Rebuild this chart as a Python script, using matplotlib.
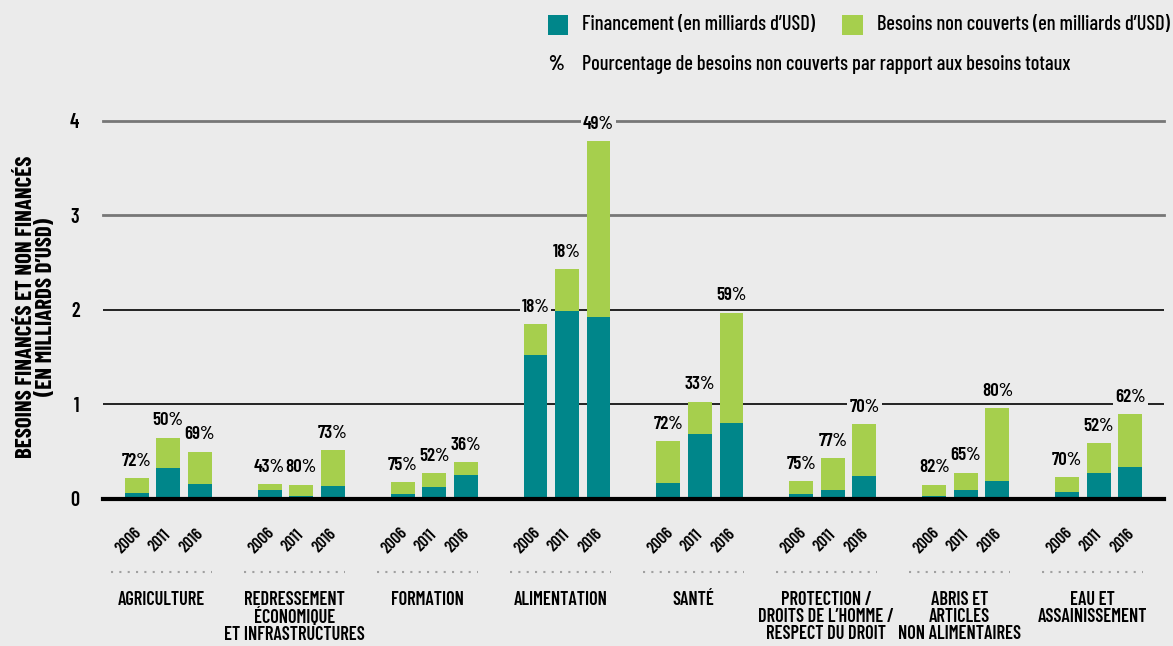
import numpy as np
import matplotlib.pyplot as plt
from matplotlib.patches import Rectangle
import matplotlib.transforms as mtransforms

plt.rcParams['font.family'] = ['Barlow Condensed', 'DejaVu Sans']

categories = ['AGRICULTURE', 'REDRESSEMENT\nÉCONOMIQUE\nET INFRASTRUCTURES', 'FORMATION',
              'ALIMENTATION', 'SANTÉ', 'PROTECTION /\nDROITS DE L’HOMME /\nRESPECT DU DROIT',
              'ABRIS ET\nARTICLES\nNON ALIMENTAIRES', 'EAU ET\nASSAINISSEMENT']
years = ['2006', '2011', '2016']

funded_2006 = [0.06, 0.09, 0.05, 1.52, 0.17, 0.05, 0.03, 0.07]
funded_2011 = [0.33, 0.03, 0.13, 1.99, 0.69, 0.10, 0.10, 0.28]
funded_2016 = [0.16, 0.14, 0.25, 1.93, 0.80, 0.24, 0.19, 0.34]
unmet_2006 = [0.16, 0.07, 0.13, 0.33, 0.44, 0.14, 0.12, 0.16]
unmet_2011 = [0.32, 0.12, 0.14, 0.44, 0.34, 0.33, 0.18, 0.31]
unmet_2016 = [0.34, 0.38, 0.14, 1.86, 1.17, 0.55, 0.77, 0.56]
pct_2006 = [72, 43, 75, 18, 72, 75, 82, 70]
pct_2011 = [50, 80, 52, 18, 33, 77, 65, 52]
pct_2016 = [69, 73, 36, 49, 59, 70, 80, 62]

funded = [funded_2006, funded_2011, funded_2016]
unmet = [unmet_2006, unmet_2011, unmet_2016]
pcts = [pct_2006, pct_2011, pct_2016]

bg = '#ebebeb'
teal = '#00868a'
green = '#a6cf4d'

fig = plt.figure(figsize=(11.73, 6.46), dpi=100, facecolor=bg)
ax = fig.add_axes([0.0878, 0.2276, 0.9045, 0.5851])
ax.set_facecolor(bg)

x = np.arange(len(categories))
offsets = [-0.237, 0, 0.237]
width = 0.18

# gridlines: 1 and 2 black, 3 and 4 grey
for yv in [1, 2]:
    ax.axhline(yv, color='black', lw=1.2, zorder=0)
for yv in [3, 4]:
    ax.axhline(yv, color='#777777', lw=2, zorder=0, clip_on=False)

for j in range(3):
    xs = x + offsets[j]
    ax.bar(xs, funded[j], width, color=teal, zorder=2)
    ax.bar(xs, unmet[j], width, bottom=funded[j], color=green, zorder=2)
    for xi, f, u, p in zip(xs, funded[j], unmet[j], pcts[j]):
        ax.annotate(f'{p}%', (xi, f + u), xytext=(0, 6), textcoords='offset points',
                    ha='center', va='bottom', fontsize=13.5, fontweight='semibold', zorder=1,
                    bbox=dict(facecolor=bg, edgecolor='none', pad=1.5), annotation_clip=False)

ax.axhline(0, color='black', lw=3, zorder=4, clip_on=False)

ax.set_xlim(-0.49, len(categories) - 0.51)
ax.set_ylim(0, 4)
ax.set_yticks([0, 1, 2, 3, 4])
ax.set_yticklabels(['0', '1', '2', '3', '4'], fontsize=14.5, fontweight='semibold')
ax.tick_params(axis='y', length=0, pad=17)
ax.set_xticks([])
for s in ax.spines.values():
    s.set_visible(False)

trans = mtransforms.blended_transform_factory(ax.transData, ax.transAxes)
for i, cat in enumerate(categories):
    for j in range(3):
        ax.text(x[i] + offsets[j] - 0.06, -0.111, years[j], transform=trans, rotation=45,
                ha='center', va='center', fontsize=12, fontweight='semibold')
    ax.plot([x[i] - 0.43, x[i] + 0.33], [-0.193, -0.193], transform=trans, clip_on=False,
            color='#a0a0a0', lw=1.5, linestyle=(0, (1, 3)))
    ax.text(x[i] - 0.05, -0.243, cat, transform=trans, ha='center', va='top',
            fontsize=13.2, fontweight='semibold', linespacing=0.95)

fig.text(0.031, 0.525, 'BESOINS FINANCÉS ET NON FINANCÉS\n(EN MILLIARDS D’USD)', rotation=90,
         ha='center', va='center', fontsize=16.5, fontweight='bold', linespacing=1.0)

# legend
fig.patches.append(Rectangle((548 / 1173, 1 - 35 / 646), 20 / 1173, 20 / 646,
                             transform=fig.transFigure, facecolor=teal, edgecolor='none'))
fig.text(582 / 1173, 1 - 25 / 646, 'Financement (en milliards d’USD)', fontsize=14.7,
         ha='left', va='center', fontweight='medium')
fig.patches.append(Rectangle((842 / 1173, 1 - 35 / 646), 21 / 1173, 20 / 646,
                             transform=fig.transFigure, facecolor=green, edgecolor='none'))
fig.text(877 / 1173, 1 - 25 / 646, 'Besoins non couverts (en milliards d’USD)', fontsize=14.7,
         ha='left', va='center', fontweight='medium')
fig.text(548 / 1173, 1 - 65 / 646, '%', fontsize=14.7, fontweight='bold', ha='left', va='center')
fig.text(582 / 1173, 1 - 65 / 646, 'Pourcentage de besoins non couverts par rapport aux besoins totaux',
         fontsize=14.6, ha='left', va='center', fontweight='medium')

fig.savefig('out.png', dpi=100, facecolor=bg)
